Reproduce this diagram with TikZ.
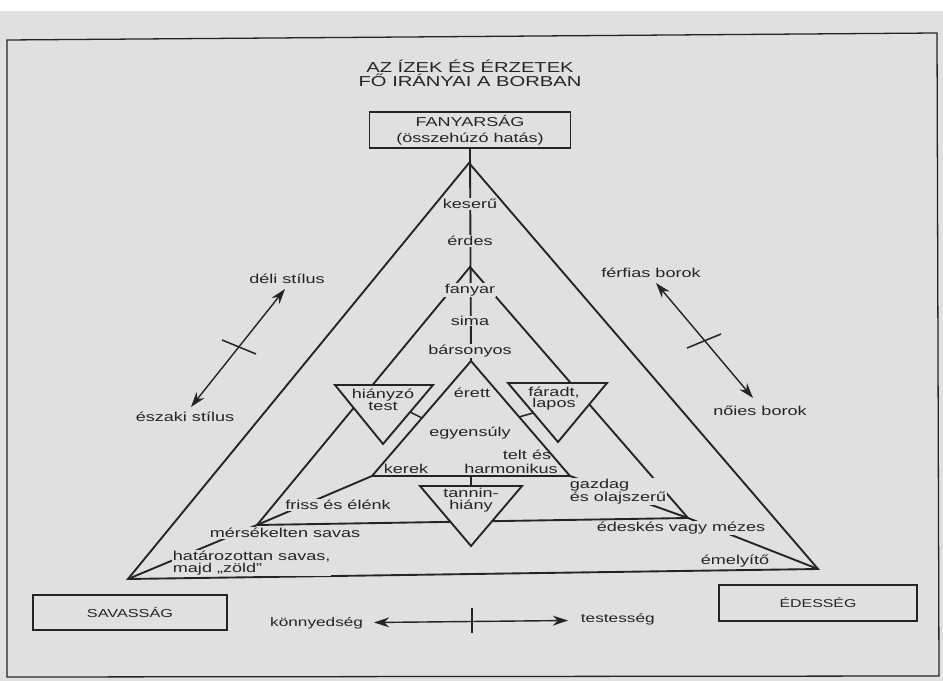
\documentclass[tikz,border=0pt]{standalone}
\usepackage{fontspec}
\setmainfont{Liberation Sans}
\usepackage{graphicx}
\usetikzlibrary{arrows.meta,calc}
\definecolor{paper}{RGB}{224,224,227}
\definecolor{ink}{RGB}{36,36,36}
\newcommand{\W}[1]{\scalebox{1.4}[1]{#1}}
\begin{document}
\begin{tikzpicture}[x=0.03cm,y=-0.03cm,
  tri/.style={draw=ink, line width=1.6pt, line join=miter},
  tick/.style={draw=ink, line width=1.3pt},
  lbl/.style={text=ink, inner sep=0.6pt, font=\fontsize{11}{10}\selectfont, align=center},
  lblf/.style={lbl, fill=paper},
  boxst/.style={draw=ink, line width=1.4pt, fill=paper, text=ink, inner sep=0pt, align=center},
  arr/.style={draw=ink, line width=1.2pt, {Stealth[length=13pt,width=8.5pt]}-{Stealth[length=13pt,width=8.5pt]}}
]
% page and frame
\useasboundingbox (0,0) rectangle (943,681);
\fill[white] (0,0) rectangle (943,681);
\fill[paper] (0,11) rectangle (943,681);
\draw[ink, line width=1.1pt] (7,40) -- (937,33) -- (939,676) -- (7,677) -- cycle;

% title
\node[lbl, font=\fontsize{12.3}{12}\selectfont] (title) at (470,73) {\W{AZ ÍZEK ÉS ÉRZETEK}\\\W{FŐ IRÁNYAI A BORBAN}};

% corner boxes
\node[boxst, minimum width=6.03cm, minimum height=1.08cm, font=\fontsize{11}{13.7}\selectfont] (fany) at (470,130) {\W{FANYARSÁG}\\\W{(összehúzó hatás)}};
\node[boxst, minimum width=5.82cm, minimum height=1.05cm, font=\fontsize{9.9}{12}\selectfont] (sav) at (130,612.5) {\W{SAVASSÁG}};
\node[boxst, minimum width=5.94cm, minimum height=1.08cm, font=\fontsize{9.7}{12}\selectfont] (edes) at (818,603) {\W{ÉDESSÉG}};

% triangle corners
\coordinate (A) at (469,163);
\coordinate (BL) at (128,579);
\coordinate (BR) at (818,569);
\coordinate (mA) at (470,267);
\coordinate (mL) at (257,525);
\coordinate (mR) at (688,518);
\coordinate (iA) at (471,361);
\coordinate (iL) at (372,476);
\coordinate (iR) at (570,476);

% small triangles
\coordinate (h1) at (335,385); \coordinate (h2) at (433,385); \coordinate (h3) at (383,444);
\coordinate (f1) at (508,383); \coordinate (f2) at (607,383); \coordinate (f3) at (558,442);
\coordinate (t1) at (420,486); \coordinate (t2) at (522,486); \coordinate (t3) at (471,546);

% tick ends
\coordinate (hk1) at (410,412); \coordinate (hk2) at (422,418);
\coordinate (fk1) at (519,417); \coordinate (fk2) at (533,413);

% main triangles
\draw[tri] (A) -- (BR) -- (BL) -- cycle;
\draw[tri] (mA) -- (mR) -- (mL) -- cycle;
\draw[tri] (iA) -- (iR) -- (iL) -- cycle;
\draw[tri] (fany.south) -- (iA);
\draw[tri] (iL) -- (mL) -- (BL);
\draw[tri] (iR) -- (mR) -- (BR);
\draw[tri] ($(iL)!0.5!(iR)$) -- ($(t1)!0.5!(t2)$);
\draw[tick] (hk1) -- (hk2);
\draw[tick] (fk1) -- (fk2);

% inverted triangles
\filldraw[tri, fill=paper] (h1) -- (h2) -- (h3) -- cycle;
\filldraw[tri, fill=paper] (f1) -- (f2) -- (f3) -- cycle;
\filldraw[tri, fill=paper] (t1) -- (t2) -- (t3) -- cycle;

% labels on the axis
\node[lblf] (keseru) at (470,204) {\W{keserű}};
\node[lblf] (erdes) at (470,241) {\W{érdes}};
\node[lblf] (fanyar) at (470,290) {\W{fanyar}};
\node[lblf] (sima) at (470,321) {\W{sima}};
\node[lblf] (barsony) at (470,351) {\W{bársonyos}};

% inner labels
\node[lbl] (hianyzo) at (383,399.5) {\W{hiányzó}\\\W{test}};
\node[lbl] (faradt) at (554,398.5) {\W{fáradt,}\\\W{lapos}};
\node[lbl] (erett) at (472,393) {\W{érett}};
\node[lbl] (egyens) at (470,433) {\W{egyensúly}};
\node[lbl] (telt) at (527,455) {\W{telt és}};
\node[lbl] (harmon) at (511,469) {\W{harmonikus}};
\node[lbl] (kerek) at (406,469) {\W{kerek}};
\node[lbl] (tannin) at (471,500) {\W{tannin-}\\\W{hiány}};

% side labels
\node[lblf] (friss) at (338,505) {\W{friss és élénk}};
\node[lblf] (merse) at (285,533) {\W{mérsékelten savas}};
\node[lblf, anchor=west, align=left] (hataro) at (172,563) {\W{határozottan savas,}\\\W{majd „zöld”}};
\node[lblf, anchor=west, align=left] (gazdag) at (569,491.5) {\W{gazdag}\\\W{és olajszerű}};
\node[lblf] (edeskes) at (681,528) {\W{édeskés vagy mézes}};
\node[lbl] (emely) at (735,561) {\W{émelyítő}};

% style arrows
\coordinate (dA) at (285,289); \coordinate (dB) at (191,407);
\coordinate (dk1) at (222,340); \coordinate (dk2) at (256,354);
\draw[arr] (dB) -- (dA);
\draw[tick] (dk1) -- (dk2);
\node[lbl] (deli) at (287,279) {\W{déli stílus}};
\node[lbl] (eszaki) at (185,417) {\W{északi stílus}};

\coordinate (rA) at (656,283); \coordinate (rB) at (753,398);
\coordinate (rk1) at (687,348); \coordinate (rk2) at (721,334);
\draw[arr] (rA) -- (rB);
\draw[tick] (rk1) -- (rk2);
\node[lbl] (ferfi) at (651,273) {\W{férfias borok}};
\node[lbl] (noies) at (760,411) {\W{nőies borok}};

% bottom arrow
\coordinate (bA) at (374,622.5); \coordinate (bB) at (568,620.5);
\coordinate (bk1) at (472,608); \coordinate (bk2) at (472,633);
\draw[arr] (bA) -- (bB);
\draw[tick] (bk1) -- (bk2);
\node[lbl, anchor=east, font=\fontsize{10.5}{12}\selectfont] (konny) at (364,623) {\W{könnyedség}};
\node[lbl, anchor=west, font=\fontsize{10.5}{12}\selectfont] (testes) at (580,619) {\W{testesség}};
\end{tikzpicture}
\end{document}
